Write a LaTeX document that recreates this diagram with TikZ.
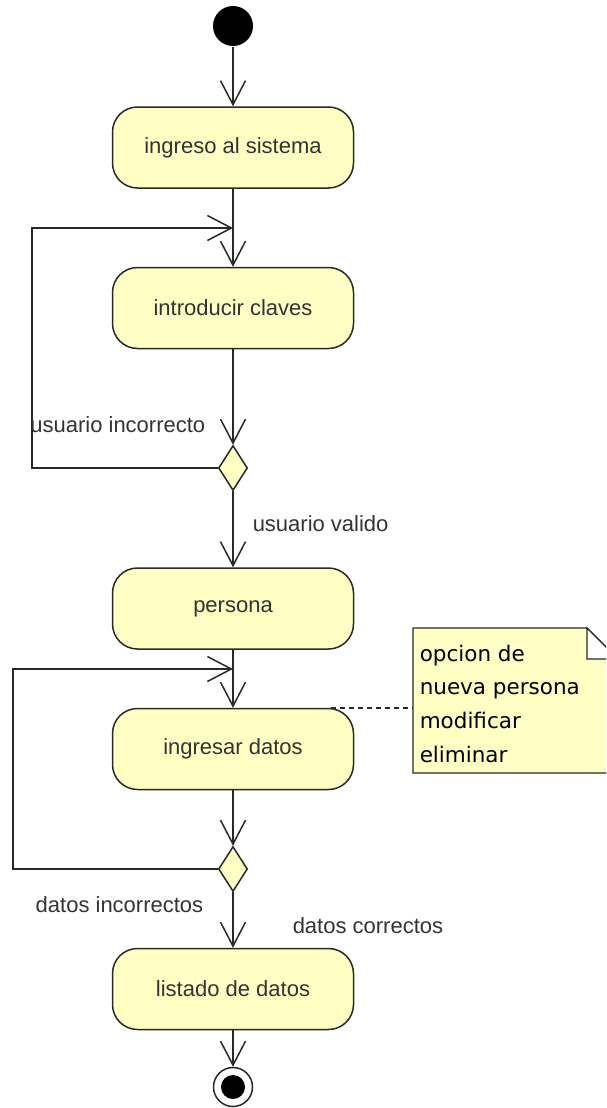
\documentclass[tikz,border=0pt]{standalone}
\usepackage{fontspec}
\setmainfont{Liberation Sans}
\newfontfamily\notafont{DejaVu Sans}
\usetikzlibrary{arrows.meta,shapes.geometric,calc}
\definecolor{actfill}{RGB}{255,255,196}
\definecolor{trazo}{RGB}{40,40,40}

\begin{document}
\begin{tikzpicture}[x=1pt, y=-1pt, line width=1.5pt,
    every node/.style={font=\fontsize{22}{26}\selectfont, text=black!80},
    accion/.style={draw=trazo, fill=actfill, rounded corners=25pt, minimum width=241pt, minimum height=81pt, inner sep=0pt},
    decision/.style={diamond, draw=trazo, fill=actfill, minimum width=29pt, minimum height=45pt, inner sep=0pt},
    inicio/.style={circle, fill=black, minimum size=40pt, inner sep=0pt},
    final/.style={circle, draw=trazo, fill=white, minimum size=39pt, inner sep=0pt,
        path picture={\fill[black] (path picture bounding box.center) circle (12pt);}},
    flow/.style={draw=trazo, -{Straight Barb[length=24pt, width=25pt]}},
    notelink/.style={draw=trazo, dash pattern=on 5pt off 4pt, line width=1.5pt},
    notatexto/.style={font=\notafont\fontsize{21.5}{33.7}\selectfont, text=black, align=left, inner sep=0pt}]

    \useasboundingbox (0,0) rectangle (606,1108);
    \clip (0,0) rectangle (606,1108);

    % Nodes
    \node[inicio] (ini) at (233,26) {};
    \node[accion] (ingreso) at (233,147.5) {ingreso al sistema};
    \node[accion] (claves) at (233,308) {introducir claves};
    \node[decision] (dec1) at (233,468) {};
    \node[accion] (persona) at (233,608.5) {persona};
    \node[accion] (datos) at (233,749) {ingresar datos};
    \node[decision] (dec2) at (233,869) {};
    \node[accion] (listado) at (233,989) {listado de datos};
    \node[final] (fin) at (233,1087) {};

    \coordinate (m1) at (233,228);
    \coordinate (m2) at (233,669);
    \coordinate (esq1) at (32,468);
    \coordinate (esq2) at (13,869);

    % Flow
    \draw[flow] (ini) -- (ingreso);
    \draw[flow] (ingreso) -- (claves);
    \draw[flow] (claves) -- (dec1);
    \draw[flow] (dec1) -- (persona);
    \draw[flow] (persona) -- (datos);
    \draw[flow] (datos) -- (dec2);
    \draw[flow] (dec2) -- (listado);
    \draw[flow] (listado) -- (fin);

    % Loops back
    \draw[flow] (dec1.west) -- (esq1) |- (m1);
    \draw[flow] (dec2.west) -- (esq2) |- (m2);

    % Guards
    \node[anchor=east, inner sep=0pt] at (206,425) {usuario incorrecto};
    \node[anchor=west, inner sep=0pt] at (252,524) {usuario valido};
    \node[anchor=east, inner sep=0pt] at (204,905) {datos incorrectos};
    \node[anchor=west, inner sep=0pt] at (292,926) {datos correctos};

    % Note
    \coordinate (notaNO) at (413,628);
    \filldraw[draw=trazo, fill=actfill, line width=1.3pt] (413,628) -- (587,628) -- (618,659) -- (618,773) -- (413,773) -- cycle;
    \filldraw[draw=trazo, fill=white, line width=1.3pt] (587,628) -- (587,659) -- (618,659) -- cycle;
    \node[notatexto, anchor=north west] (nota) at (419,644) {opcion de\\nueva persona\\modificar\\eliminar};
    \coordinate (enlace) at ($(datos.north east)+(-23,0)$);
    \draw[notelink] (enlace) -- (enlace -| notaNO);

\end{tikzpicture}
\end{document}
